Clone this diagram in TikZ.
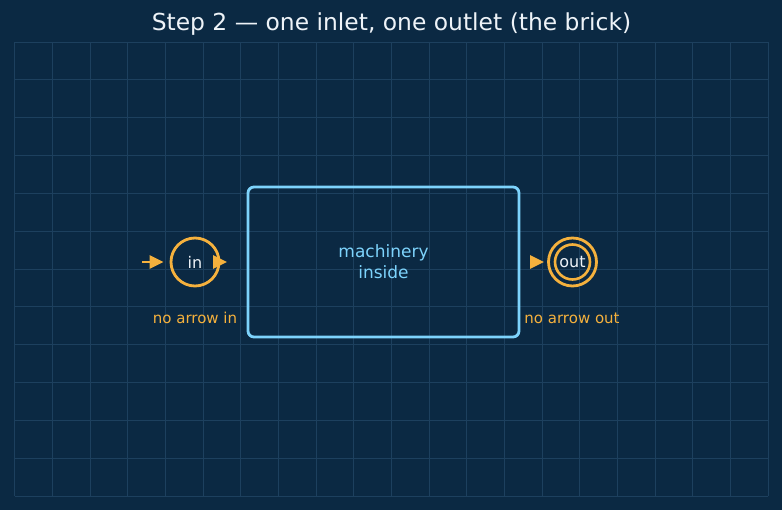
\documentclass[tikz,border=0pt]{standalone}
\usepackage{fontspec}
\setmainfont{DejaVu Sans}
\usetikzlibrary{arrows.meta}
\definecolor{bgnavy}{HTML}{0B2943}
\definecolor{gridblue}{HTML}{1D405E}
\definecolor{amber}{HTML}{F5B13D}
\definecolor{sky}{HTML}{7DD3FC}
\definecolor{ink}{HTML}{EEF3F8}
\tikzset{state/.style={circle, draw=amber, line width=2.8pt, minimum size=48pt, inner sep=0pt, text=ink, font=\fontsize{16}{18}\selectfont}}
\tikzset{flow/.style={draw=amber, line width=2.8pt, -{Triangle[length=14pt,width=13pt]}}}
\tikzset{note/.style={text=amber, font=\fontsize{15}{17}\selectfont}}

\begin{document}
\begin{tikzpicture}[x=1pt, y=-1pt]
  \fill[bgnavy] (0,0) rectangle (782,510);
  \useasboundingbox (0,0) rectangle (782,510);
  \foreach \i in {0,...,20}
    \draw[gridblue, line width=0.8pt] ({14.7+\i*37.665},42) -- ({14.7+\i*37.665},496);
  \foreach \j in {0,...,12}
    \draw[gridblue, line width=0.8pt] (14.7,{42+\j*37.83}) -- (768,{42+\j*37.83});

  \node (title) [text=ink, font=\fontsize{23.4}{26}\selectfont] at (391.5,24) {Step 2 — one inlet, one outlet (the brick)};

  \node (brick) [draw=sky, line width=2.8pt, rounded corners=6pt, minimum width=271pt, minimum height=150pt, text=sky, align=center, font=\fontsize{17}{21}\selectfont] at (383.5,262) {machinery\\inside};

  \node (in) [state] at (195,262) {in};
  \node (out) [state] at (572.5,262) {out};
  \draw[amber, line width=2.6pt] (out) circle[radius=17.5pt];

  \node (innote) [note] at (195,318) {no arrow in};
  \node (outnote) [note] at (572,318) {no arrow out};

  \coordinate (src) at (142,262);
  \coordinate (intip) at (227,262);
  \coordinate (outtail) at (532,262);

  \draw[flow, shorten >=6pt] (src) -- (in);
  \draw[flow] (in.east) -- (intip);
  \draw[flow, shorten >=3pt] (outtail) -- (out);
\end{tikzpicture}
\end{document}
